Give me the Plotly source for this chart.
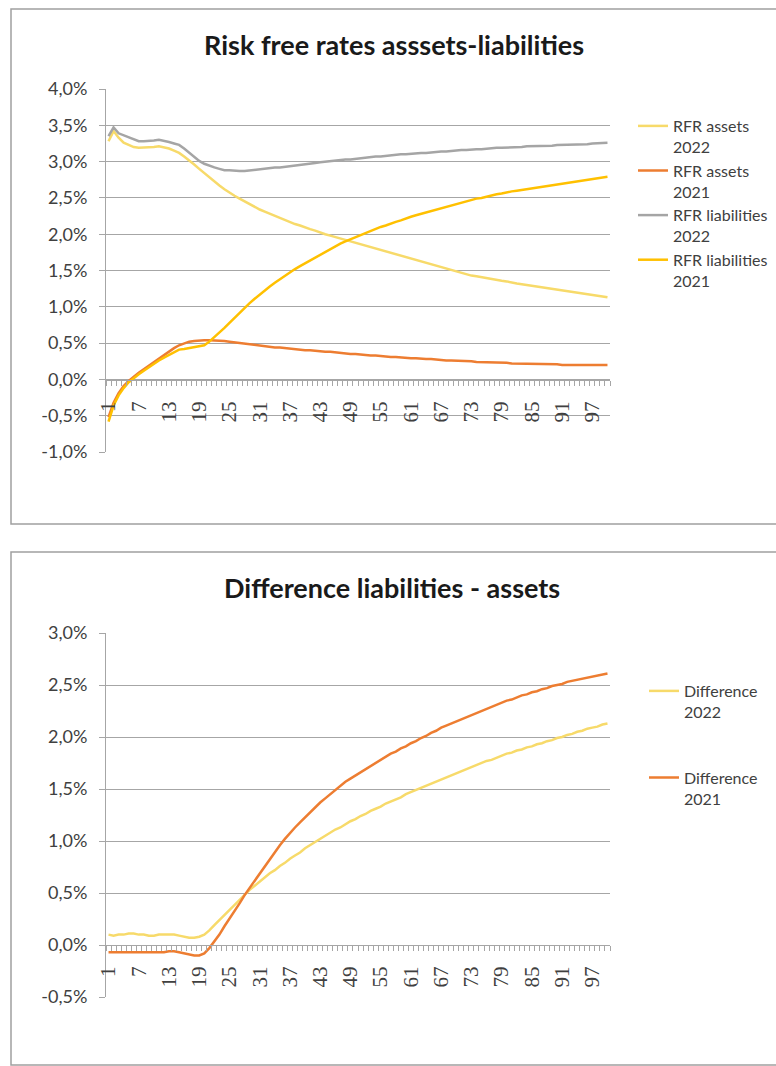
import plotly.graph_objects as go

# ---------------- data (values in %) ----------------
categories = list(range(1, 101))
tick_labels = [str(c) for c in categories[::6]]

top_ticks = [-1.0, -0.5, 0.0, 0.5, 1.0, 1.5, 2.0, 2.5, 3.0, 3.5, 4.0]
bottom_ticks = [-0.5, 0.0, 0.5, 1.0, 1.5, 2.0, 2.5, 3.0]

rfr_assets_2022 = [
    3.28, 3.42, 3.33, 3.26, 3.23, 3.20, 3.19, 3.19, 3.19, 3.20,
    3.21, 3.20, 3.18, 3.15, 3.12, 3.07, 3.02, 2.96, 2.90, 2.84,
    2.78, 2.72, 2.67, 2.62, 2.57, 2.53, 2.49, 2.45, 2.41, 2.38,
    2.34, 2.31, 2.28, 2.25, 2.22, 2.19, 2.17, 2.14, 2.12, 2.09,
    2.07, 2.05, 2.02, 2.00, 1.98, 1.96, 1.94, 1.92, 1.90, 1.88,
    1.86, 1.84, 1.82, 1.80, 1.78, 1.76, 1.74, 1.72, 1.70, 1.68,
    1.66, 1.64, 1.62, 1.60, 1.58, 1.56, 1.54, 1.52, 1.50, 1.48,
    1.46, 1.45, 1.43, 1.42, 1.41, 1.39, 1.38, 1.37, 1.36, 1.35,
    1.33, 1.32, 1.31, 1.30, 1.29, 1.28, 1.27, 1.26, 1.24, 1.23,
    1.22, 1.21, 1.20, 1.19, 1.18, 1.17, 1.16, 1.15, 1.14, 1.13,
]

rfr_assets_2021 = [
    -0.52, -0.32, -0.19, -0.09, -0.02, 0.04, 0.09, 0.14, 0.19, 0.24,
    0.29, 0.34, 0.39, 0.43, 0.47, 0.50, 0.52, 0.53, 0.54, 0.54,
    0.54, 0.54, 0.54, 0.53, 0.52, 0.51, 0.50, 0.49, 0.48, 0.47,
    0.46, 0.46, 0.45, 0.44, 0.44, 0.43, 0.42, 0.42, 0.41, 0.40,
    0.40, 0.39, 0.39, 0.38, 0.38, 0.37, 0.36, 0.36, 0.35, 0.35,
    0.34, 0.34, 0.33, 0.33, 0.32, 0.32, 0.31, 0.31, 0.30, 0.30,
    0.29, 0.29, 0.28, 0.28, 0.28, 0.27, 0.27, 0.26, 0.26, 0.26,
    0.25, 0.25, 0.25, 0.24, 0.24, 0.24, 0.23, 0.23, 0.23, 0.23,
    0.22, 0.22, 0.22, 0.22, 0.22, 0.21, 0.21, 0.21, 0.21, 0.21,
    0.20, 0.20, 0.20, 0.20, 0.20, 0.20, 0.20, 0.20, 0.20, 0.20,
]

rfr_liabilities_2022 = [
    3.35, 3.47, 3.39, 3.36, 3.34, 3.30, 3.28, 3.28, 3.28, 3.29,
    3.30, 3.29, 3.27, 3.25, 3.23, 3.18, 3.12, 3.06, 3.01, 2.97,
    2.94, 2.92, 2.90, 2.88, 2.88, 2.87, 2.87, 2.87, 2.88, 2.88,
    2.89, 2.90, 2.91, 2.92, 2.92, 2.93, 2.94, 2.95, 2.95, 2.96,
    2.97, 2.98, 2.99, 3.00, 3.00, 3.01, 3.02, 3.03, 3.03, 3.04,
    3.05, 3.05, 3.06, 3.07, 3.07, 3.08, 3.09, 3.09, 3.10, 3.10,
    3.11, 3.11, 3.12, 3.12, 3.13, 3.13, 3.14, 3.14, 3.15, 3.15,
    3.16, 3.16, 3.17, 3.17, 3.17, 3.18, 3.18, 3.19, 3.19, 3.19,
    3.20, 3.20, 3.20, 3.21, 3.21, 3.21, 3.22, 3.22, 3.22, 3.23,
    3.23, 3.23, 3.23, 3.24, 3.24, 3.24, 3.25, 3.25, 3.25, 3.26,
]

rfr_liabilities_2021 = [
    -0.58, -0.36, -0.22, -0.12, -0.04, 0.02, 0.07, 0.12, 0.17, 0.22,
    0.26, 0.30, 0.34, 0.38, 0.41, 0.42, 0.43, 0.44, 0.45, 0.47,
    0.52, 0.58, 0.64, 0.71, 0.78, 0.85, 0.92, 0.99, 1.05, 1.11,
    1.17, 1.23, 1.28, 1.33, 1.38, 1.43, 1.48, 1.52, 1.56, 1.60,
    1.64, 1.68, 1.72, 1.76, 1.80, 1.83, 1.87, 1.90, 1.93, 1.96,
    1.99, 2.02, 2.05, 2.07, 2.10, 2.12, 2.15, 2.17, 2.19, 2.22,
    2.24, 2.26, 2.28, 2.30, 2.32, 2.34, 2.36, 2.38, 2.40, 2.42,
    2.44, 2.45, 2.47, 2.49, 2.50, 2.52, 2.53, 2.55, 2.56, 2.58,
    2.59, 2.60, 2.61, 2.63, 2.64, 2.65, 2.66, 2.67, 2.68, 2.69,
    2.70, 2.71, 2.72, 2.73, 2.74, 2.75, 2.76, 2.77, 2.78, 2.79,
]

difference_2022 = [
    0.10, 0.09, 0.10, 0.10, 0.11, 0.11, 0.10, 0.10, 0.09, 0.09,
    0.10, 0.10, 0.10, 0.10, 0.09, 0.08, 0.07, 0.07, 0.08, 0.10,
    0.14, 0.19, 0.24, 0.29, 0.34, 0.39, 0.44, 0.49, 0.53, 0.57,
    0.61, 0.65, 0.69, 0.72, 0.76, 0.79, 0.83, 0.86, 0.89, 0.93,
    0.96, 0.99, 1.02, 1.05, 1.08, 1.11, 1.13, 1.16, 1.19, 1.21,
    1.24, 1.26, 1.29, 1.31, 1.33, 1.36, 1.38, 1.40, 1.42, 1.45,
    1.47, 1.49, 1.51, 1.53, 1.55, 1.57, 1.59, 1.61, 1.63, 1.65,
    1.67, 1.69, 1.71, 1.73, 1.75, 1.77, 1.78, 1.80, 1.82, 1.84,
    1.85, 1.87, 1.88, 1.90, 1.91, 1.93, 1.94, 1.96, 1.97, 1.99,
    2.00, 2.02, 2.03, 2.05, 2.06, 2.08, 2.09, 2.10, 2.12, 2.13,
]

difference_2021 = [
    -0.07, -0.07, -0.07, -0.07, -0.07, -0.07, -0.07, -0.07, -0.07, -0.07,
    -0.07, -0.07, -0.06, -0.06, -0.07, -0.08, -0.09, -0.10, -0.10, -0.08,
    -0.03, 0.03, 0.10, 0.18, 0.25, 0.33, 0.40, 0.48, 0.55, 0.62,
    0.69, 0.76, 0.83, 0.89, 0.96, 1.02, 1.08, 1.13, 1.18, 1.23,
    1.28, 1.33, 1.37, 1.41, 1.45, 1.49, 1.53, 1.57, 1.60, 1.63,
    1.66, 1.69, 1.72, 1.75, 1.78, 1.81, 1.84, 1.86, 1.89, 1.91,
    1.94, 1.96, 1.99, 2.01, 2.04, 2.06, 2.09, 2.11, 2.13, 2.15,
    2.17, 2.19, 2.21, 2.23, 2.25, 2.27, 2.29, 2.31, 2.33, 2.35,
    2.36, 2.38, 2.40, 2.41, 2.43, 2.44, 2.46, 2.47, 2.49, 2.50,
    2.51, 2.53, 2.54, 2.55, 2.56, 2.57, 2.58, 2.59, 2.60, 2.61,
]

top_series = [
    ("RFR assets<br>2022", rfr_assets_2022, "#F7DA6A"),
    ("RFR assets<br>2021", rfr_assets_2021, "#ED7D31"),
    ("RFR liabilities<br>2022", rfr_liabilities_2022, "#A5A5A5"),
    ("RFR liabilities<br>2021", rfr_liabilities_2021, "#FFC000"),
]
bottom_series = [
    ("Difference<br>2022", difference_2022, "#F7DA6A"),
    ("Difference<br>2021", difference_2021, "#ED7D31"),
]

# ---------------- layout geometry ----------------
W, H = 776, 1066
def px_y(p):
    return 1 - p / H

GRID = "#A6A6A6"
TXT = "#404040"

def pct_label(v):
    return ("%.1f%%" % v).replace(".", ",")

fig = go.Figure()

for name, vals, col in top_series:
    fig.add_trace(go.Scatter(
        x=categories, y=vals, mode="lines", name=name,
        line=dict(color=col, width=2.5), xaxis="x", yaxis="y", legend="legend",
        hoverinfo="skip"))

for i, (name, vals, col) in enumerate(bottom_series):
    fig.add_trace(go.Scatter(
        x=categories, y=vals, mode="lines", name=name,
        line=dict(color=col, width=2.5), xaxis="x2", yaxis="y2", legend="legend2",
        legendgroup="g%d" % i, hoverinfo="skip"))

xdom = [106 / W, 610 / W]
xr = [0.5, 100.5]

ytick_font = dict(family="Lato", size=18, color=TXT)
xtick_font = dict(family="Liberation Serif", size=21, color=TXT)

def y_axis(dom, rng, ticks, anchor):
    return dict(domain=dom, range=rng, anchor=anchor,
                tickmode="array", tickvals=ticks, ticktext=[pct_label(t) for t in ticks],
                showgrid=True, gridcolor=GRID, gridwidth=1, zeroline=False,
                showline=True, linecolor=GRID, linewidth=1,
                ticks="outside", ticklen=6, tickcolor=GRID,
                ticklabelstandoff=8, tickfont=ytick_font, automargin=False,
                fixedrange=True)

def cat_x(pos):
    return dict(domain=xdom, range=xr, anchor="free", position=pos,
                showgrid=False, zeroline=False,
                showline=True, linecolor=GRID, linewidth=1,
                tickmode="array", tickvals=categories[::6], ticktext=tick_labels,
                ticks="", tickangle=-90, tickfont=xtick_font, automargin=False,
                ticklabelstandoff=12,
                minor=dict(ticks="outside", tickmode="linear", tick0=0.5, dtick=1,
                           ticklen=5, tickcolor=GRID, showgrid=False),
                fixedrange=True)

top_dom = [px_y(452), px_y(89)]
bot_dom = [px_y(997), px_y(633)]

fig.update_layout(
    width=W, height=H,
    margin=dict(l=0, r=0, t=0, b=0, pad=0, autoexpand=False),
    paper_bgcolor="white", plot_bgcolor="rgba(0,0,0,0)",
    showlegend=True,
    xaxis=cat_x(px_y(380)),
    yaxis=y_axis(top_dom, [-1.0, 4.0], top_ticks, "x"),
    xaxis2=cat_x(px_y(945)),
    yaxis2=y_axis(bot_dom, [-0.5, 3.0], bottom_ticks, "x2"),
    legend=dict(x=633 / W, y=px_y(109), xanchor="left", yanchor="top",
                font=dict(family="Lato", size=16, color=TXT), valign="top",
                bgcolor="rgba(0,0,0,0)", tracegroupgap=0, itemclick=False),
    legend2=dict(x=644 / W, y=px_y(674), xanchor="left", yanchor="top",
                 font=dict(family="Lato", size=16, color=TXT), valign="top",
                 bgcolor="rgba(0,0,0,0)", tracegroupgap=42, itemclick=False),
    annotations=[
        dict(text="<b>Risk free rates asssets-liabilities</b>", x=394 / W, y=px_y(45),
             xref="paper", yref="paper", showarrow=False, xanchor="center", yanchor="middle",
             font=dict(family="Lato", size=27, color="#1a1a1a")),
        dict(text="<b>Difference liabilities - assets</b>", x=392 / W, y=px_y(587),
             xref="paper", yref="paper", showarrow=False, xanchor="center", yanchor="middle",
             font=dict(family="Lato", size=27, color="#1a1a1a")),
    ],
    shapes=[
        dict(type="rect", xref="paper", yref="paper", x0=11 / W, x1=1.02,
             y0=px_y(524), y1=px_y(9), line=dict(color="#A0A0A0", width=1.5)),
        dict(type="rect", xref="paper", yref="paper", x0=11 / W, x1=1.02,
             y0=px_y(1065), y1=px_y(552), line=dict(color="#A0A0A0", width=1.5)),
    ],
)

fig.write_html("out.html", config={"displayModeBar": False},
               post_script="document.body.style.margin='0px';")
